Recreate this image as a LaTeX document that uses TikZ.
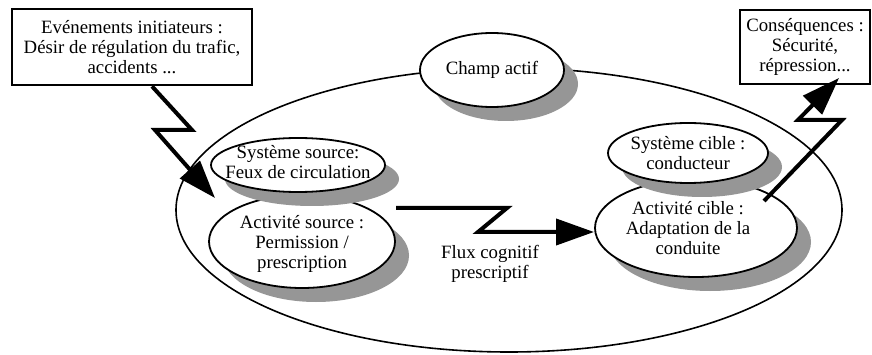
\documentclass[tikz,border=0pt]{standalone}
\usepackage{fontspec}
\setmainfont{Liberation Serif}
\usetikzlibrary{shapes.geometric,arrows.meta,shadows}
\definecolor{shadowgray}{RGB}{150,150,150}
\begin{document}
\begin{tikzpicture}[x=1pt,y=-1pt,
  txt/.style={font=\fontsize{18.8}{20.3}\selectfont, align=center, inner sep=0pt},
  oval/.style={ellipse, draw, line width=1.8pt, fill=white, inner sep=0pt,
    drop shadow={shadow xshift=14pt, shadow yshift=-14pt, fill=shadowgray, opacity=1}},
  field/.style={ellipse, draw, line width=1.6pt, inner sep=0pt},
  infobox/.style={draw, fill=white, txt},
  bolt/.style={line width=4pt, miter limit=10, -{Triangle[length=38pt,width=26pt]}}]
\useasboundingbox (0,0) rectangle (872,355);

% big field ellipse
\node[field, minimum width=666, minimum height=284] (fld) at (509,210) {};

% ellipses with shadows
\node[oval, minimum width=144, minimum height=74,
  label={[txt]center:{Champ actif}}] (champ) at (492,70) {};
\node[oval, minimum width=186, minimum height=93,
  label={[txt,yshift=-2.5pt]center:{Activité source :\\Permission /\\prescription}}] (asrc) at (302,241.5) {};
\node[oval, minimum width=174, minimum height=54,
  label={[txt,yshift=3pt]center:{Système source:\\Feux de circulation}}] (ssrc) at (298,165) {};
\node[oval, minimum width=202, minimum height=98,
  label={[txt,xshift=-8pt]center:{Activité cible :\\Adaptation de la\\conduite}}] (acib) at (696,228) {};
\node[oval, minimum width=160, minimum height=60,
  label={[txt]center:{Système cible :\\conducteur}}] (scib) at (688,153) {};

% boxes
\node[infobox, line width=2.6pt, minimum width=240, minimum height=76] (ev) at (132,47)
  {Evénements initiateurs :\\Désir de régulation du trafic,\\accidents ...};
\node[infobox, line width=2pt, minimum width=130, minimum height=74] (cons) at (805,47)
  {Conséquences :\\Sécurité,\\répression...};

% flux label
\node[txt] (flux) at (490,264) {Flux cognitif\\prescriptif};

% lightning connectors
\coordinate (e1) at (192,130);
\coordinate (e2) at (155,130);
\coordinate (e3) at (215,198);
\draw[bolt] ([xshift=20pt]ev.south) -- (e1) -- (e2) -- (e3);

\coordinate (f0) at (396,208);
\coordinate (f1) at (507,208);
\coordinate (f2) at (478,232);
\coordinate (f3) at (594,232);
\draw[bolt] (f0) -- (f1) -- (f2) -- (f3);

\coordinate (g0) at (764,201);
\coordinate (g1) at (842,120);
\coordinate (g2) at (798,120);
\coordinate (g3) at (839,78);
\draw[bolt] (g0) -- (g1) -- (g2) -- (g3);
\end{tikzpicture}
\end{document}
